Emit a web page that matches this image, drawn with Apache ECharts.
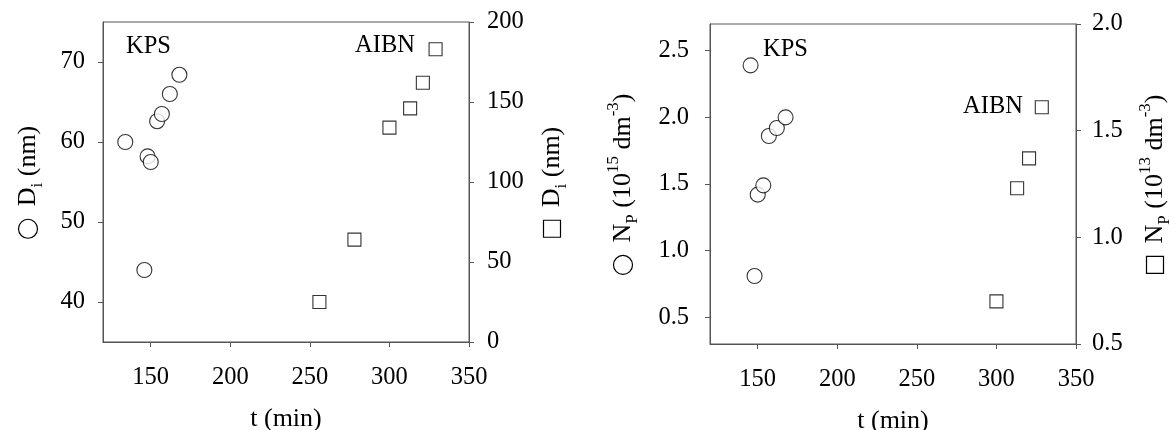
<!DOCTYPE html>
<html>
<head>
<meta charset="utf-8">
<script src="https://cdn.jsdelivr.net/npm/echarts@6/dist/echarts.min.js"></script>
<style>html,body{margin:0;padding:0;background:#fff;}#c{width:1173px;height:430px;}</style>
</head>
<body>
<div id="c"></div>
<script>
// ---- data ----
const tLeftKPS = [134, 148, 150, 154, 157, 162, 168, 146];
const dKPS = [60, 58.2, 57.5, 62.6, 63.5, 66, 68.4, 44];
const tLeftAIBN = [256, 278, 300, 313, 321, 329];
const dAIBN = [25, 64, 134, 146, 162, 183];
const tRightKPS = [145.5, 148, 150, 153.5, 157, 162, 167.5];
const nKPS = [2.39, 0.81, 1.42, 1.49, 1.86, 1.92, 2.0];
const tRightAIBN = [300, 313, 320.5, 328.5];
const nAIBN = [0.70, 1.23, 1.37, 1.61];

const xTicks = [150, 200, 250, 300, 350];
const dLeftTicks = [40, 50, 60, 70];
const dRightTicks = [0, 50, 100, 150, 200];
const nLeftTicks = [0.5, 1.0, 1.5, 2.0, 2.5];
const nRightTicks = [0.5, 1.0, 1.5, 2.0];

const zip = (a, b) => a.map((v, i) => [v, b[i]]);

const FONT = 'Liberation Serif';
const AX = '#555';
const rich = {
  n: { fontFamily: FONT, fontSize: 26, color: '#000', lineHeight: 36 },
  sub: { fontFamily: FONT, fontSize: 17, color: '#000', verticalAlign: 'bottom', lineHeight: 17 },
  sup: { fontFamily: FONT, fontSize: 17, color: '#000', verticalAlign: 'top', lineHeight: 17 },
  c: { width: 19, height: 19, borderRadius: 10, borderColor: '#000', borderWidth: 1.2, lineHeight: 19 },
  s: { width: 17, height: 17, borderColor: '#000', borderWidth: 1.2, lineHeight: 17 }
};

function xAxis(gridIndex) {
  return {
    type: 'value', gridIndex, min: 120, max: 350,
    name: 't (min)', nameLocation: 'middle', nameGap: 64,
    nameTextStyle: { fontFamily: FONT, fontSize: 26, color: '#000' },
    axisLine: { show: true, lineStyle: { color: AX, width: 1 } },
    axisTick: { show: true, length: 5, customValues: xTicks, lineStyle: { color: AX } },
    axisLabel: { customValues: xTicks, margin: 23, fontFamily: FONT, fontSize: 24.5, color: '#000' },
    splitLine: { show: false }
  };
}
function yAxis(gridIndex, pos, min, max, ticks, name, gap, margin, fmt) {
  return {
    type: 'value', gridIndex, position: pos, min, max,
    name, nameLocation: 'middle', nameRotate: 90, nameGap: gap,
    nameTextStyle: { rich, fontFamily: FONT, fontSize: 26, color: '#000' },
    axisLine: { show: true, onZero: false, lineStyle: { color: AX, width: 1 } },
    axisTick: { show: true, length: 5, customValues: ticks, lineStyle: { color: AX } },
    axisLabel: { customValues: ticks, margin, fontFamily: FONT, fontSize: 24.5, color: '#000',
      formatter: fmt || (v => String(v)) },
    splitLine: { show: false }
  };
}
const f1 = v => v.toFixed(1);

const circ = { color: '#fff', borderColor: '#000', borderWidth: 1.1 };
const annot = (x, y, t) => ({ type: 'text', x, y, style: { text: t, font: '24.5px "' + FONT + '"', fill: '#000', textAlign: 'center', textVerticalAlign: 'middle' } });

const option = {
  animation: false,
  backgroundColor: '#fff',
  grid: [
    { left: 103, top: 22, width: 366, height: 320, show: true, borderColor: AX, borderWidth: 1, containLabel: false, outerBoundsMode: 'none' },
    { left: 710, top: 24, width: 366, height: 320, show: true, borderColor: AX, borderWidth: 1, containLabel: false, outerBoundsMode: 'none' }
  ],
  xAxis: [xAxis(0), xAxis(1)],
  yAxis: [
    yAxis(0, 'left', 35, 75, dLeftTicks, '{c| }{n|  D}{sub|i}{n| (nm)}', 57, 18),
    yAxis(0, 'right', 0, 200, dRightTicks, '{s| }{n|  D}{sub|i}{n| (nm)}', 65, 18),
    yAxis(1, 'left', 0.3, 2.7, nLeftTicks, '{c| }{n|  N}{sub|P}{n| (10}{sup|15}{n| dm}{sup|-3}{n|)}', 69, 21, f1),
    yAxis(1, 'right', 0.5, 2.0, nRightTicks, '{s| }{n|  N}{sub|P}{n| (10}{sup|13}{n| dm}{sup|-3}{n|)}', 61, 16, f1)
  ],
  series: [
    { type: 'scatter', xAxisIndex: 0, yAxisIndex: 0, symbol: 'circle', symbolSize: 15, itemStyle: circ, data: zip(tLeftKPS, dKPS) },
    { type: 'scatter', xAxisIndex: 0, yAxisIndex: 1, symbol: 'rect', symbolSize: 13, itemStyle: circ, data: zip(tLeftAIBN, dAIBN) },
    { type: 'scatter', xAxisIndex: 1, yAxisIndex: 2, symbol: 'circle', symbolSize: 15, itemStyle: circ, data: zip(tRightKPS, nKPS) },
    { type: 'scatter', xAxisIndex: 1, yAxisIndex: 3, symbol: 'rect', symbolSize: 13, itemStyle: circ, data: zip(tRightAIBN, nAIBN) }
  ],
  graphic: [
    annot(148.5, 47, 'KPS'),
    annot(385, 46, 'AIBN'),
    annot(785.5, 50, 'KPS'),
    annot(993, 107, 'AIBN')
  ]
};
const chart = echarts.init(document.getElementById('c'), null, { renderer: 'canvas' });
chart.setOption(option);
</script>
</body>
</html>
